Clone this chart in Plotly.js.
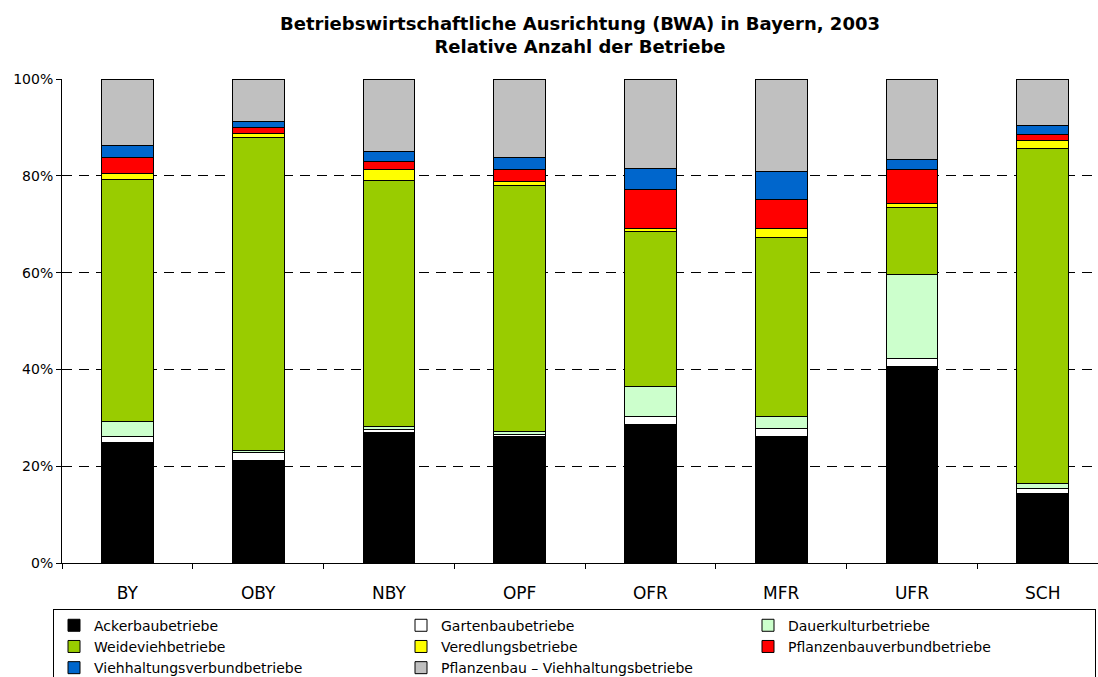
<!DOCTYPE html>
<html>
<head>
<meta charset="utf-8">
<script src="https://cdn.plot.ly/plotly-3.0.1.min.js"></script>
<style>
  html, body { margin: 0; padding: 0; background: #fff; }
  #chart { width: 1098px; height: 677px; }
</style>
</head>
<body>
<div id="chart"></div>
<script>
// Categories (regions)
const regions = ["BY", "OBY", "NBY", "OPF", "OFR", "MFR", "UFR", "SCH"];

// Shares in percent
const ackerbau        = [24.9, 21.2, 27.0, 26.1, 28.7, 26.2, 40.5, 14.3];
const gartenbau       = [1.3, 1.6, 0.5, 0.5, 1.6, 1.6, 1.8, 1.1];
const dauerkultur     = [3.1, 0.4, 0.7, 0.6, 6.2, 2.5, 17.4, 1.1];
const weidevieh       = [50.0, 64.7, 50.9, 50.7, 31.9, 37.0, 13.8, 69.2];
const veredlung       = [1.2, 0.8, 2.1, 1.0, 0.7, 1.8, 0.7, 1.5];
const pflanzenVerbund = [3.3, 1.3, 1.7, 2.4, 8.0, 6.0, 7.1, 1.3];
const viehVerbund     = [2.4, 1.2, 2.2, 2.5, 4.5, 5.8, 2.1, 1.8];
const pflanzenVieh    = [13.8, 8.8, 14.9, 16.2, 18.4, 19.1, 16.6, 9.7];

const seriesNames = [
  "Ackerbaubetriebe", "Gartenbaubetriebe", "Dauerkulturbetriebe",
  "Weideviehbetriebe", "Veredlungsbetriebe", "Pflanzenbauverbundbetriebe",
  "Viehhaltungsverbundbetriebe", "Pflanzenbau – Viehhaltungsbetriebe"
];
const seriesValues = [ackerbau, gartenbau, dauerkultur, weidevieh, veredlung,
  pflanzenVerbund, viehVerbund, pflanzenVieh];
const seriesColors = ["#000000", "#ffffff", "#ccffcc", "#99cc00", "#ffff00",
  "#ff0000", "#0066cc", "#c0c0c0"];

const yTicks = [0, 20, 40, 60, 80, 100];
const yTickText = ["0%", "20%", "40%", "60%", "80%", "100%"];

const font = "DejaVu Sans, Liberation Sans, Arial, sans-serif";

const traces = seriesNames.map((name, i) => ({
  type: "bar",
  name: name,
  x: regions,
  y: seriesValues[i],
  marker: { color: seriesColors[i], line: { color: "#000000", width: 1 } },
  hoverinfo: "x+y+name"
}));

const layout = {
  width: 1098,
  height: 677,
  paper_bgcolor: "#ffffff",
  plot_bgcolor: "#ffffff",
  font: { family: font, color: "#000000" },
  barmode: "stack",
  bargap: 0.604,
  margin: { l: 62, r: 0, t: 79, b: 114, autoexpand: false },
  title: {
    text: "<b>Betriebswirtschaftliche Ausrichtung (BWA) in Bayern, 2003<br>Relative Anzahl der Betriebe</b>",
    font: { family: font, size: 18, color: "#000000" },
    x: 580 / 1098,
    xref: "container",
    xanchor: "center",
    y: 1 - 30 / 677,
    yref: "container",
    yanchor: "middle"
  },
  xaxis: {
    type: "category",
    range: [-0.5, 7.423],
    tickson: "boundaries",
    ticks: "outside",
    ticklen: 5,
    tickcolor: "#000000",
    showline: true,
    linecolor: "#000000",
    linewidth: 1,
    showgrid: false,
    tickfont: { family: font, size: 17, color: "#000000" },
    ticklabelstandoff: 15,
    fixedrange: true
  },
  yaxis: {
    range: [0, 100],
    tickvals: yTicks,
    ticktext: yTickText,
    ticks: "outside",
    ticklen: 5,
    tickcolor: "#000000",
    showline: true,
    linecolor: "#000000",
    linewidth: 1,
    showgrid: true,
    gridcolor: "#000000",
    gridwidth: 1,
    griddash: "10px,7px",
    zeroline: false,
    tickfont: { family: font, size: 14, color: "#000000" },
    fixedrange: true
  },
  showlegend: true,
  legend: {
    orientation: "h",
    x: -9 / 1036,
    xanchor: "left",
    y: (563.3 - 609) / 484.3,
    yanchor: "top",
    entrywidth: 302,
    entrywidthmode: "pixels",
    traceorder: "normal",
    itemwidth: 30,
    bordercolor: "#000000",
    borderwidth: 1,
    bgcolor: "#ffffff",
    tracegroupgap: 0,
    font: { family: font, size: 14, color: "#000000" }
  }
};

Plotly.newPlot("chart", traces, layout, { displayModeBar: false, staticPlot: true });
</script>
</body>
</html>
